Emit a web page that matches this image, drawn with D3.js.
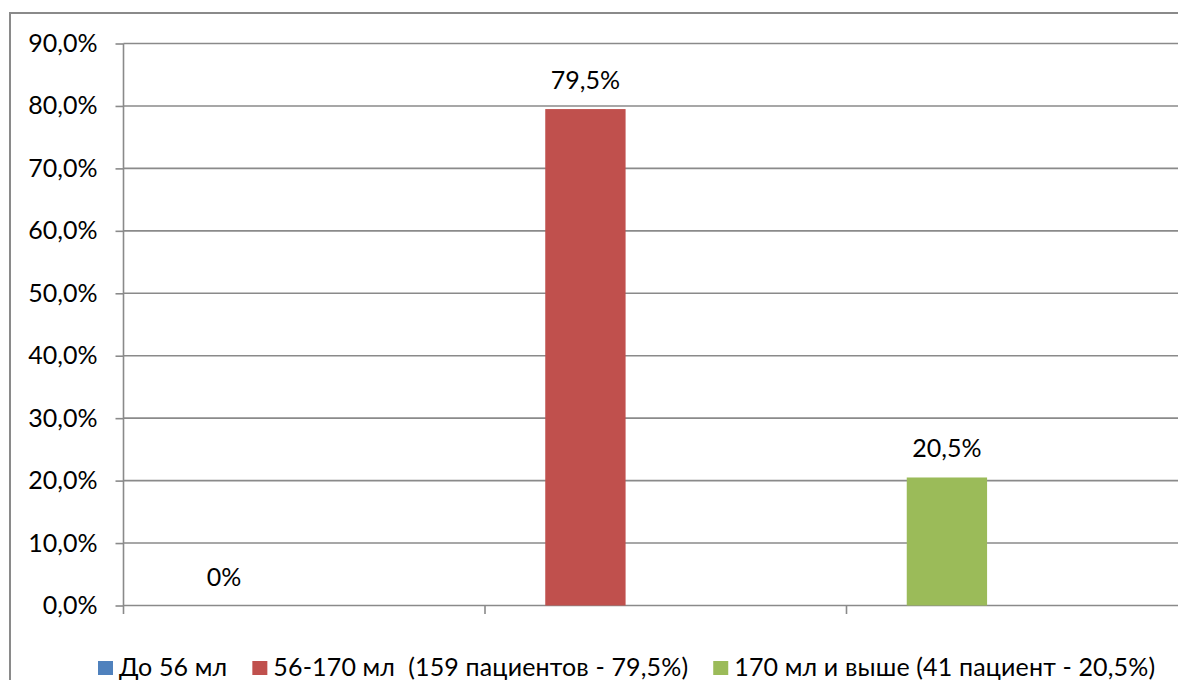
<!DOCTYPE html>
<html>
<head>
<meta charset="utf-8">
<script src="https://cdn.jsdelivr.net/npm/d3@7"></script>
<style>
  html, body { margin: 0; padding: 0; background: #fff; }
  svg { display: block; font-family: Lato, "Liberation Sans", sans-serif; }
</style>
</head>
<body>
<svg id="chart" width="1178" height="680"></svg>
<script>
// Volume groups (one bar per group) and their shares of patients
const categories = ["g1", "g2", "g3"];
const seriesNames = [
  "До 56 мл",
  "56-170 мл  (159 пациентов - 79,5%)",
  "170 мл и выше (41 пациент - 20,5%)"
];
const values = [0, 0.795, 0.205];
const colors = ["#4F81BD", "#C0504D", "#9BBB59"];
const yTicks = [0, 0.1, 0.2, 0.3, 0.4, 0.5, 0.6, 0.7, 0.8, 0.9];

const ru = d3.formatLocale({ decimal: ",", thousands: "\u00a0", grouping: [3], currency: ["", ""] });
const axisFmt = ru.format(".1%");
const labelFmt = ru.format(".1~%");

const svg = d3.select("#chart");
const gridColor = "#8a8a8a";
const fontSize = 25;

const plotLeft = 123.5, plotRight = 1208, plotTop = 43.5, plotBottom = 605.5;

const y = d3.scaleLinear().domain([0, 0.9]).range([plotBottom, plotTop]);
const x0 = d3.scaleBand().domain(categories).range([plotLeft, plotRight]).padding(0);
// Clustered slots inside each category; each group's bar sits in the leading slot
const x1 = d3.scaleBand().domain(seriesNames).range([0, x0.bandwidth()])
  .paddingInner(0).paddingOuter(0.75);

// outer frame
svg.append("rect")
  .attr("x", 10).attr("y", 13)
  .attr("width", 1400).attr("height", 900)
  .attr("fill", "none").attr("stroke", gridColor).attr("stroke-width", 2);

// horizontal gridlines
svg.append("g").selectAll("line").data(yTicks.slice(1)).join("line")
  .attr("x1", plotLeft).attr("x2", plotRight)
  .attr("y1", d => y(d)).attr("y2", d => y(d))
  .attr("stroke", gridColor).attr("stroke-width", 1.6);

// y axis
const yAxis = d3.axisLeft(y).tickValues(yTicks).tickFormat(axisFmt).tickSize(8).tickPadding(18);
const gy = svg.append("g").attr("transform", `translate(${plotLeft},0)`).call(yAxis);
gy.select(".domain").attr("d", `M0,${plotTop}V${plotBottom + 8.5}`)
  .attr("stroke", gridColor).attr("stroke-width", 1.6);
gy.selectAll(".tick line").attr("stroke", gridColor).attr("stroke-width", 1.6);
gy.selectAll(".tick text")
  .attr("font-family", "Lato, sans-serif").attr("font-size", fontSize).attr("fill", "#000");

// x axis baseline with category boundary ticks
const boundaries = categories.map(c => x0(c)).concat([plotRight]);
svg.append("line")
  .attr("x1", plotLeft).attr("x2", plotRight).attr("y1", plotBottom).attr("y2", plotBottom)
  .attr("stroke", gridColor).attr("stroke-width", 1.6);
svg.append("g").selectAll("line").data(boundaries.slice(1)).join("line")
  .attr("x1", d => d).attr("x2", d => d)
  .attr("y1", plotBottom).attr("y2", plotBottom + 8.5)
  .attr("stroke", gridColor).attr("stroke-width", 1.6);

// bars
const rows = categories.map((c, i) => ({ c, v: values[i], color: colors[i] }));
const barX = d => x0(d.c) + x1(seriesNames[0]);
svg.append("g").selectAll("rect").data(rows).join("rect")
  .attr("x", barX)
  .attr("y", d => y(d.v))
  .attr("width", x1.bandwidth())
  .attr("height", d => y(0) - y(d.v))
  .attr("fill", d => d.color);

// value labels
svg.append("g").selectAll("text").data(rows).join("text")
  .attr("x", d => barX(d) + x1.bandwidth() / 2)
  .attr("y", d => y(d.v) - 20)
  .attr("text-anchor", "middle")
  .attr("font-size", fontSize).attr("fill", "#000")
  .text(d => labelFmt(d.v));

// legend
const legend = svg.append("g");
let lx = 98;
seriesNames.forEach((name, i) => {
  legend.append("rect")
    .attr("x", lx).attr("y", 661).attr("width", 15).attr("height", 14)
    .attr("fill", colors[i]);
  const t = legend.append("text")
    .attr("x", lx + 21).attr("y", 675.5)
    .attr("font-size", fontSize).attr("fill", "#000")
    .attr("letter-spacing", 0.15)
    .style("white-space", "pre")
    .text(name);
  lx += 21 + t.node().getComputedTextLength() + 25;
});
</script>
</body>
</html>
